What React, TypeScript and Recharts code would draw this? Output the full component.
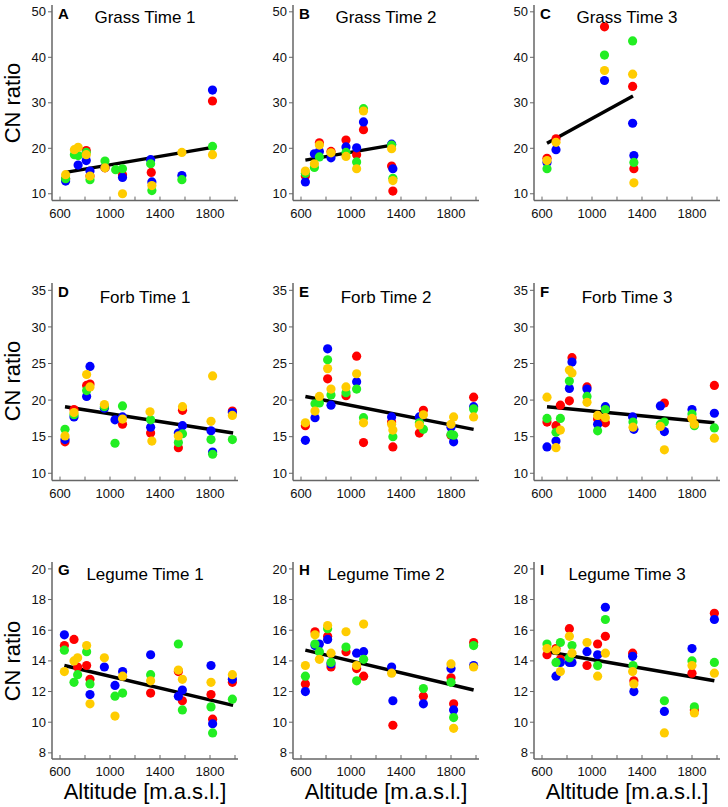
import React from "react";
import { ScatterChart, Scatter, XAxis, YAxis, ReferenceLine } from "recharts";

type Pt = [number, number];

// altitude ticks (labels only every 400 m)
const xTicks = [600, 800, 1000, 1200, 1400, 1600, 1800, 2000];
const grassTicks = [10, 20, 30, 40, 50];
const forbTicks = [10, 15, 20, 25, 30, 35];
const legumeTicks = [8, 10, 12, 14, 16, 18, 20];

// A - Grass Time 1
const aRed: Pt[] = [[645, 13.3], [810, 19.5], [840, 13.9], [960, 15.7], [1100, 14.2], [1330, 14.7], [1820, 30.4]];
const aBlue: Pt[] = [[645, 12.8], [745, 16.3], [810, 17.3], [840, 15], [960, 15.8], [1100, 13.6], [1325, 17.5], [1335, 12.6], [1575, 14], [1820, 32.8]];
const aGreen: Pt[] = [[645, 13.3], [715, 18.6], [745, 18.4], [810, 19.1], [840, 13.1], [960, 17.2], [1045, 15.3], [1100, 15.5], [1325, 16.6], [1335, 10.7], [1575, 13.1], [1820, 20.4]];
const aYellow: Pt[] = [[645, 14.2], [715, 19.7], [745, 20.2], [810, 18.6], [840, 13.9], [960, 15.7], [1100, 10], [1335, 11.8], [1575, 19.1], [1820, 18.6]];
const aFit: Pt[] = [[645, 14.7], [1820, 20.2]];

// B - Grass Time 2
const bRed: Pt[] = [[635, 13.9], [747, 21.2], [840, 19.3], [960, 21.8], [1045, 18.6], [1100, 24.1], [1325, 16.1], [1335, 10.6]];
const bBlue: Pt[] = [[635, 12.6], [707, 18.8], [747, 19.3], [840, 17.9], [960, 20.3], [1045, 20.1], [1100, 25.8], [1325, 20.9], [1335, 15.5]];
const bGreen: Pt[] = [[635, 14.5], [707, 15.8], [747, 18.1], [960, 19.1], [1045, 17], [1100, 28.7], [1325, 20.7], [1335, 13.4]];
const bYellow: Pt[] = [[635, 15], [707, 16.6], [747, 20.7], [840, 19], [960, 18.2], [1045, 15.5], [1100, 28.2], [1325, 19.9], [1335, 12.9]];
const bFit: Pt[] = [[635, 17.4], [1328, 20.7]];

// C - Grass Time 3
const cRed: Pt[] = [[640, 17.8], [712, 22.1], [1100, 46.7], [1325, 33.6], [1335, 15.5]];
const cBlue: Pt[] = [[640, 16.9], [712, 19.7], [1100, 34.9], [1325, 25.5], [1335, 18.4]];
const cGreen: Pt[] = [[640, 15.5], [1100, 40.5], [1325, 43.6], [1335, 16.9]];
const cYellow: Pt[] = [[640, 17.3], [712, 21.3], [1100, 37.1], [1325, 36.3], [1335, 12.4]];
const cFit: Pt[] = [[640, 21.1], [1328, 31.5]];

// D - Forb Time 1
const dRed: Pt[] = [[640, 14.3], [712, 18.7], [813, 22], [840, 22.2], [1100, 16.7], [1325, 15.5], [1547, 13.5], [1580, 18.6], [1979, 18.5]];
const dBlue: Pt[] = [[640, 14.6], [712, 17.7], [813, 20.5], [840, 24.6], [955, 18.9], [1040, 17.3], [1100, 17.7], [1325, 16.3], [1547, 15.5], [1580, 16.5], [1808, 15.8], [1821, 12.9], [1979, 18.3]];
const dGreen: Pt[] = [[640, 16], [712, 18], [813, 21.3], [955, 19.1], [1040, 14.1], [1100, 19.2], [1325, 17.3], [1547, 14.2], [1580, 15.4], [1808, 14.6], [1821, 12.6], [1979, 14.6]];
const dYellow: Pt[] = [[640, 15.1], [712, 18.3], [813, 23.5], [840, 21.8], [955, 19.4], [1100, 17.4], [1320, 18.4], [1335, 14.4], [1547, 15.1], [1580, 19.1], [1808, 17.1], [1821, 23.3], [1979, 17.9]];
const dFit: Pt[] = [[640, 19.1], [1985, 15.5]];

// E - Forb Time 2
const eRed: Pt[] = [[635, 16.5], [813, 22.9], [960, 20.6], [1045, 26], [1100, 14.2], [1325, 17], [1335, 13.6], [1547, 15.5], [1579, 18.6], [1800, 15.2], [1981, 20.4]];
const eBlue: Pt[] = [[635, 14.5], [712, 17.6], [813, 27], [840, 19.3], [1045, 22.5], [1325, 17.7], [1547, 17.7], [1800, 16.3], [1821, 14.3], [1981, 19.1]];
const eGreen: Pt[] = [[712, 19.5], [747, 19.6], [813, 25.5], [840, 20.7], [960, 21], [1045, 21.5], [1100, 17.6], [1335, 15], [1547, 16.9], [1579, 16], [1800, 15.3], [1821, 15.2], [1981, 18.8]];
const eYellow: Pt[] = [[635, 16.9], [712, 18.5], [747, 20.5], [813, 24.3], [840, 21.5], [960, 21.8], [1045, 23.6], [1100, 16.9], [1325, 16.7], [1335, 15.9], [1547, 16.6], [1579, 18], [1800, 16.7], [1821, 17.7], [1981, 17.7]];
const eFit: Pt[] = [[635, 20.5], [1981, 16]];

// F - Forb Time 3
const fRed: Pt[] = [[640, 17], [712, 16.5], [747, 19.3], [819, 19.9], [840, 25.8], [960, 21.8], [1045, 17.4], [1107, 16.9], [1579, 19.6], [1800, 17.6], [1979, 22]];
const fBlue: Pt[] = [[640, 13.6], [712, 14.4], [819, 21.6], [840, 25.2], [960, 21.5], [1045, 16.7], [1107, 19.1], [1325, 17.7], [1335, 16], [1547, 19.2], [1579, 15.7], [1800, 18.7], [1979, 18.2]];
const fGreen: Pt[] = [[640, 17.5], [712, 15.6], [747, 17.5], [819, 22.6], [960, 20.5], [1045, 15.8], [1107, 18.7], [1328, 17], [1547, 16.7], [1579, 17], [1800, 18.1], [1819, 16.5], [1979, 16.2]];
const fYellow: Pt[] = [[640, 20.4], [712, 13.5], [747, 15.9], [819, 24.1], [840, 23.7], [960, 19.7], [1045, 17.9], [1107, 17.6], [1328, 16.3], [1547, 16.4], [1579, 13.2], [1800, 17.5], [1819, 16.7], [1979, 14.8]];
const fFit: Pt[] = [[640, 19.1], [1979, 16.9]];

// G - Legume Time 1
const gRed: Pt[] = [[635, 15], [712, 15.4], [741, 13.6], [813, 13.7], [840, 12.8], [1325, 11.9], [1547, 13.3], [1579, 11.4], [1808, 11.8], [1821, 10.2], [1979, 12.6]];
const gBlue: Pt[] = [[635, 15.7], [840, 11.8], [955, 13.6], [1040, 12.4], [1101, 13.3], [1325, 14.4], [1547, 11.7], [1579, 12.1], [1808, 13.7], [1821, 9.9], [1979, 12.8]];
const gGreen: Pt[] = [[635, 14.7], [712, 12.6], [741, 13.1], [813, 14.6], [840, 12.5], [1040, 11.7], [1101, 11.9], [1325, 13.1], [1547, 15.1], [1579, 10.8], [1808, 11], [1821, 9.3], [1979, 11.5]];
const gYellow: Pt[] = [[635, 13.3], [712, 14], [741, 14.2], [813, 15], [840, 11.2], [955, 14.2], [1040, 10.4], [1101, 13], [1325, 12.7], [1547, 13.4], [1579, 12.8], [1808, 12.6], [1979, 13.1]];
const gFit: Pt[] = [[635, 13.7], [1985, 11.1]];

// H - Legume Time 2
const hRed: Pt[] = [[635, 12.5], [712, 15.9], [813, 15.6], [840, 13.6], [960, 14.6], [1045, 13.5], [1101, 13], [1335, 9.8], [1579, 11.7], [1800, 12.9], [1821, 11.2], [1981, 15.2]];
const hBlue: Pt[] = [[635, 12], [712, 15], [747, 15.1], [813, 15.4], [840, 13.8], [1045, 14.5], [1101, 14.6], [1325, 13.6], [1335, 11.4], [1579, 11.2], [1800, 13.5], [1821, 10.8], [1981, 13.7]];
const hGreen: Pt[] = [[635, 13], [712, 15.1], [747, 14.6], [813, 16.1], [840, 13.9], [960, 14.9], [1045, 12.7], [1101, 14.1], [1579, 12.2], [1800, 12.6], [1821, 10.3], [1981, 15]];
const hYellow: Pt[] = [[635, 13.7], [712, 15.7], [747, 14.1], [813, 16.3], [840, 14.5], [960, 15.9], [1045, 13.7], [1101, 16.4], [1325, 13.2], [1800, 13.8], [1821, 9.6], [1981, 13.6]];
const hFit: Pt[] = [[635, 14.7], [1981, 12.1]];

// I - Legume Time 3
const iRed: Pt[] = [[640, 14.4], [712, 14.8], [747, 14.1], [819, 16.1], [960, 13.7], [1045, 15.1], [1107, 15.6], [1325, 14.5], [1335, 12.7], [1800, 13.2], [1819, 10.8], [1979, 17.1]];
const iBlue: Pt[] = [[712, 13], [747, 13.9], [819, 13.9], [840, 13.9], [960, 14.6], [1045, 14.4], [1107, 17.5], [1325, 14.3], [1335, 12], [1579, 10.7], [1800, 14.8], [1979, 16.7]];
const iGreen: Pt[] = [[640, 15.1], [712, 13.9], [747, 15.2], [819, 14.2], [840, 15], [1045, 13.7], [1107, 16.7], [1328, 13.7], [1579, 11.4], [1800, 14], [1819, 11], [1979, 13.9]];
const iYellow: Pt[] = [[640, 14.8], [712, 14.7], [747, 13.3], [819, 15.6], [840, 14.5], [960, 15.2], [1045, 13], [1107, 14.5], [1325, 13.3], [1335, 12.5], [1579, 9.3], [1800, 13.7], [1819, 10.6], [1979, 13.2]];
const iFit: Pt[] = [[640, 14.6], [1979, 12.7]];

const RED = "#ff0000";
const BLUE = "#0000ff";
const GREEN = "#22ee22";
const YELLOW = "#ffcc00";
const AXIS = "#666";
const FONT = "'Liberation Sans', Arial, sans-serif";

const colX = [52, 293, 534];
const rows = [
  { domain: [8.5, 51.5], ticks: grassTicks, top: 5.2, h: 195.6, letterY: 19, titleY: 23, mid: 103 },
  { domain: [9, 36], ticks: forbTicks, top: 282.7, h: 197.6, letterY: 297, titleY: 303, mid: 381 },
  { domain: [7.6, 20.45], ticks: legumeTicks, top: 562.1, h: 197, letterY: 575, titleY: 580, mid: 661 },
];

const panels = [
  { letter: "A", title: "Grass Time 1", row: 0, col: 0, series: [aRed, aBlue, aGreen, aYellow], fit: aFit },
  { letter: "B", title: "Grass Time 2", row: 0, col: 1, series: [bRed, bBlue, bGreen, bYellow], fit: bFit },
  { letter: "C", title: "Grass Time 3", row: 0, col: 2, series: [cRed, cBlue, cGreen, cYellow], fit: cFit },
  { letter: "D", title: "Forb Time 1", row: 1, col: 0, series: [dRed, dBlue, dGreen, dYellow], fit: dFit },
  { letter: "E", title: "Forb Time 2", row: 1, col: 1, series: [eRed, eBlue, eGreen, eYellow], fit: eFit },
  { letter: "F", title: "Forb Time 3", row: 1, col: 2, series: [fRed, fBlue, fGreen, fYellow], fit: fFit },
  { letter: "G", title: "Legume Time 1", row: 2, col: 0, series: [gRed, gBlue, gGreen, gYellow], fit: gFit },
  { letter: "H", title: "Legume Time 2", row: 2, col: 1, series: [hRed, hBlue, hGreen, hYellow], fit: hFit },
  { letter: "I", title: "Legume Time 3", row: 2, col: 2, series: [iRed, iBlue, iGreen, iYellow], fit: iFit },
];

const seriesColors = [RED, BLUE, GREEN, YELLOW];

const dot = (color: string) => (props: any) => (
  <circle cx={props.cx} cy={props.cy} r={4.6} fill={color} />
);

const Panel = ({ p }: { p: (typeof panels)[number] }) => {
  const r = rows[p.row];
  const left = colX[p.col] - 40;
  return (
    <div style={{ position: "absolute", left, top: r.top }}>
      <ScatterChart width={229} height={r.h + 30} margin={{ top: 0, right: 3, bottom: 0, left: 0 }}>
        <XAxis
          type="number"
          dataKey="x"
          domain={[536, 2024]}
          ticks={xTicks}
          interval={0}
          allowDataOverflow
          height={30}
          tickFormatter={(v: number) => ((v - 600) % 400 === 0 ? String(v) : "")}
          tickSize={-4}
          tickMargin={12}
          axisLine={{ stroke: AXIS, strokeWidth: 1.5 }}
          tickLine={{ stroke: AXIS }}
          tick={{ fill: "#111", fontSize: 13, fontFamily: FONT }}
        />
        <YAxis
          type="number"
          dataKey="y"
          domain={r.domain as [number, number]}
          ticks={r.ticks}
          interval={0}
          allowDataOverflow
          width={40}
          tickSize={4}
          tickMargin={2}
          axisLine={{ stroke: AXIS, strokeWidth: 1.5 }}
          tickLine={{ stroke: AXIS }}
          tick={{ fill: "#111", fontSize: 13, fontFamily: FONT }}
        />
        {p.series.map((pts, i) => (
          <Scatter
            key={i}
            data={pts.map(([x, y]) => ({ x, y }))}
            fill={seriesColors[i]}
            shape={dot(seriesColors[i])}
            isAnimationActive={false}
          />
        ))}
        <ReferenceLine
          segment={[
            { x: p.fit[0][0], y: p.fit[0][1] },
            { x: p.fit[1][0], y: p.fit[1][1] },
          ]}
          stroke="#000"
          strokeWidth={3.5}
          ifOverflow="visible"
        />
      </ScatterChart>
    </div>
  );
};

export default function App() {
  return (
    <div style={{ position: "absolute", left: 0, top: 0, width: 728, height: 807, background: "#fff" }}>
      {panels.map((p) => (
        <Panel key={p.letter} p={p} />
      ))}
      <svg
        width={728}
        height={807}
        style={{ position: "absolute", left: 0, top: 0, pointerEvents: "none" }}
        fontFamily={FONT}
      >
        {panels.map((p) => {
          const r = rows[p.row];
          const ax = colX[p.col];
          return (
            <g key={p.letter}>
              <text x={ax + 6} y={r.letterY} fontSize={15} fontWeight="bold" fill="#000">
                {p.letter}
              </text>
              <text x={ax + 93} y={r.titleY} fontSize={17} textAnchor="middle" fill="#000">
                {p.title}
              </text>
            </g>
          );
        })}
        {rows.map((r, i) => (
          <text
            key={i}
            transform={`translate(20, ${r.mid}) rotate(-90)`}
            fontSize={22}
            textAnchor="middle"
            fill="#000"
          >
            CN ratio
          </text>
        ))}
        {colX.map((ax, i) => (
          <text key={i} x={ax + 93} y={799} fontSize={22} textAnchor="middle" fill="#000">
            Altitude [m.a.s.l.]
          </text>
        ))}
      </svg>
    </div>
  );
}
